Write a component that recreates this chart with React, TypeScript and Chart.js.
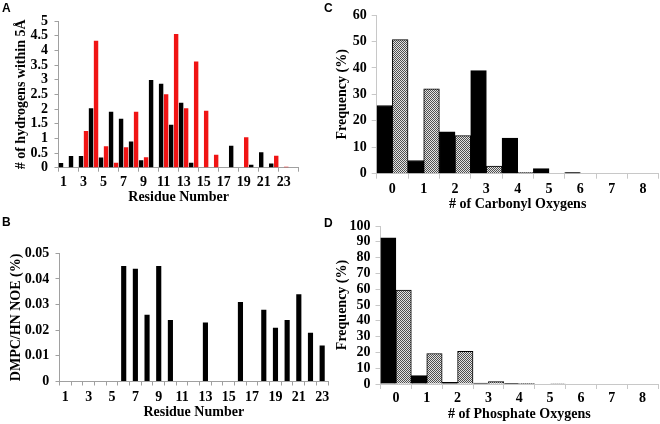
import React, { useEffect, useRef } from 'react';
import { Chart, registerables } from 'chart.js';

Chart.register(...registerables);

// ---------- Data ----------
// Panel A: number of hydrogens within 5 Å per residue
const residuesA = ['1', '2', '3', '4', '5', '6', '7', '8', '9', '10', '11', '12', '13', '14', '15', '16', '17', '18', '19', '20', '21', '22', '23', '24'];
const hydrogensBlack = [0.16, 0.4, 0.4, 2.03, 0.35, 1.91, 1.67, 0.89, 0.25, 2.99, 2.86, 1.46, 2.21, 0.17, 0, 0, 0, 0.75, 0, 0.1, 0.53, 0.14, 0, 0];
const hydrogensRed = [0, 0, 1.25, 4.33, 0.73, 0.17, 0.7, 1.91, 0.36, 0, 2.5, 4.56, 2.03, 3.62, 1.94, 0.44, 0, 0, 1.04, 0, 0, 0.41, 0.03, 0];

// Panel B: DMPC/HN NOE
const residuesB = ['1', '2', '3', '4', '5', '6', '7', '8', '9', '10', '11', '12', '13', '14', '15', '16', '17', '18', '19', '20', '21', '22', '23'];
const noeValues = [0, 0, 0, 0, 0, 0.045, 0.044, 0.026, 0.045, 0.024, 0, 0, 0.023, 0, 0, 0.031, 0, 0.028, 0.021, 0.024, 0.034, 0.019, 0.014];

// Panel C: carbonyl oxygens
const oxygenCounts = ['0', '1', '2', '3', '4', '5', '6', '7', '8'];
const carbonylBlack = [25.8, 5.0, 15.8, 39.0, 13.5, 1.9, 0.4, 0, 0];
const carbonylGray = [50.7, 32.1, 14.4, 2.9, 0.4, 0, 0, 0, 0];

// Panel D: phosphate oxygens
const phosphateBlack = [92.5, 5.3, 1.1, 0.6, 0.2, 0, 0, 0, 0];
const phosphateGray = [59.5, 19.3, 20.6, 1.5, 0.4, 0.3, 0, 0, 0];

// ---------- Styles ----------
const SERIF = "'Liberation Serif', 'Times New Roman', serif";
const tickFont = { family: SERIF, size: 14, weight: 'bold' as const };
const titleFont = { family: SERIF, size: 14, weight: 'bold' as const };
const AXIS_AB = '#a0a0a0';
const AXIS_CD = '#c8c8c8';
const RED = '#f01414';

function makePattern(ctx: CanvasRenderingContext2D) {
  const c = document.createElement('canvas');
  c.width = 2;
  c.height = 2;
  const p = c.getContext('2d')!;
  p.fillStyle = '#e4e4e4';
  p.fillRect(0, 0, 2, 2);
  p.fillStyle = '#505050';
  p.fillRect(0, 0, 1, 1);
  p.fillRect(1, 1, 1, 1);
  return ctx.createPattern(c, 'repeat');
}

type Spec = {
  yWidth: number;
  xHeight: number;
  padTop: number;
  padRight: number;
  yMax: number;
  yStep: number;
  yTitle: string;
  yTitlePad: number;
  yTickPad: number;
  tickLen: number;
  xTitle: string;
  xTitlePad: number;
  xTickPad: number;
  axisColor: string;
  xGridColor: any;
  xLabel: (v: any, i: number) => string;
};

function buildOptions(s: Spec): any {
  return {
    responsive: false,
    animation: false,
    events: [],
    layout: { padding: { top: s.padTop, right: s.padRight, left: 0, bottom: 0 } },
    plugins: { legend: { display: false }, tooltip: { enabled: false } },
    scales: {
      x: {
        type: 'category',
        offset: true,
        afterFit: (scale: any) => {
          scale.height = s.xHeight;
        },
        grid: {
          offset: true,
          drawOnChartArea: false,
          drawTicks: true,
          tickLength: s.tickLen,
          color: s.xGridColor,
        },
        border: { display: true, color: s.axisColor },
        ticks: {
          autoSkip: false,
          maxRotation: 0,
          minRotation: 0,
          padding: s.xTickPad,
          color: '#000',
          font: tickFont,
          callback: s.xLabel,
        },
        title: {
          display: true,
          text: s.xTitle,
          color: '#000',
          font: titleFont,
          padding: { top: 0, bottom: s.xTitlePad },
        },
      },
      y: {
        min: 0,
        max: s.yMax,
        afterFit: (scale: any) => {
          scale.width = s.yWidth;
        },
        grid: {
          drawOnChartArea: false,
          drawTicks: true,
          tickLength: s.tickLen,
          color: s.axisColor,
        },
        border: { display: true, color: s.axisColor },
        ticks: {
          stepSize: s.yStep,
          autoSkip: false,
          padding: s.yTickPad,
          color: '#000',
          font: tickFont,
          callback: (v: any) => String(Math.round(Number(v) * 10000) / 10000),
        },
        title: {
          display: true,
          text: s.yTitle,
          color: '#000',
          font: titleFont,
          padding: { top: s.yTitlePad, bottom: 0 },
        },
      },
    },
  };
}

export default function App() {
  const refA = useRef<HTMLCanvasElement>(null);
  const refB = useRef<HTMLCanvasElement>(null);
  const refC = useRef<HTMLCanvasElement>(null);
  const refD = useRef<HTMLCanvasElement>(null);

  useEffect(() => {
    const charts: Chart[] = [];

    // Panel A
    charts.push(
      new Chart(refA.current!, {
        type: 'bar',
        data: {
          labels: residuesA,
          datasets: [
            { data: hydrogensBlack, backgroundColor: '#000', categoryPercentage: 1, barPercentage: 0.88 },
            { data: hydrogensRed, backgroundColor: RED, categoryPercentage: 1, barPercentage: 0.88 },
          ],
        },
        options: buildOptions({
          yWidth: 58.5,
          xHeight: 42.3,
          padTop: 21,
          padRight: 11.25,
          yMax: 5,
          yStep: 0.5,
          yTitle: '# of hydrogens within 5Å',
          yTitlePad: 12.6,
          yTickPad: 6.5,
          tickLen: 4,
          xTitle: 'Residue Number',
          xTitlePad: 4,
          xTickPad: 2.4,
          axisColor: AXIS_AB,
          xGridColor: (ctx: any) =>
            ctx.index === undefined || ctx.index % 2 === 0 ? AXIS_AB : 'rgba(0,0,0,0)',
          xLabel: (_v: any, i: number) => (i % 2 === 0 ? residuesA[i] : ''),
        }),
      })
    );

    // Panel B
    charts.push(
      new Chart(refB.current!, {
        type: 'bar',
        data: {
          labels: residuesB,
          datasets: [{ data: noeValues, backgroundColor: '#000', categoryPercentage: 1, barPercentage: 0.44 }],
        },
        options: buildOptions({
          yWidth: 59.5,
          xHeight: 42.5,
          padTop: 41.3,
          padRight: 12,
          yMax: 0.05,
          yStep: 0.01,
          yTitle: 'DMPC/HN NOE (%)',
          yTitlePad: 7.6,
          yTickPad: 6.2,
          tickLen: 4,
          xTitle: 'Residue Number',
          xTitlePad: 3.6,
          xTickPad: 3.1,
          axisColor: AXIS_AB,
          xGridColor: AXIS_AB,
          xLabel: (_v: any, i: number) => (i % 2 === 0 ? residuesB[i] : ''),
        }),
      })
    );

    // Panel C
    const ctxC = refC.current!.getContext('2d')!;
    charts.push(
      new Chart(refC.current!, {
        type: 'bar',
        data: {
          labels: oxygenCounts,
          datasets: [
            { data: carbonylBlack, backgroundColor: '#000', borderColor: '#000', borderWidth: 1, categoryPercentage: 1, barPercentage: 1 },
            { data: carbonylGray, backgroundColor: makePattern(ctxC) as any, borderColor: '#000', borderWidth: 1, categoryPercentage: 1, barPercentage: 1 },
          ],
        },
        options: buildOptions({
          yWidth: 46.7,
          xHeight: 44.3,
          padTop: 15,
          padRight: 1.3,
          yMax: 60,
          yStep: 10,
          yTitle: 'Frequency (%)',
          yTitlePad: 4.1,
          yTickPad: 5,
          tickLen: 5,
          xTitle: '# of Carbonyl Oxygens',
          xTitlePad: 5,
          xTickPad: 1.9,
          axisColor: AXIS_CD,
          xGridColor: AXIS_CD,
          xLabel: (_v: any, i: number) => oxygenCounts[i],
        }),
      })
    );

    // Panel D
    const ctxD = refD.current!.getContext('2d')!;
    charts.push(
      new Chart(refD.current!, {
        type: 'bar',
        data: {
          labels: oxygenCounts,
          datasets: [
            { data: phosphateBlack, backgroundColor: '#000', borderColor: '#000', borderWidth: 1, categoryPercentage: 1, barPercentage: 1 },
            { data: phosphateGray, backgroundColor: makePattern(ctxD) as any, borderColor: '#000', borderWidth: 1, categoryPercentage: 1, barPercentage: 1 },
          ],
        },
        options: buildOptions({
          yWidth: 50.5,
          xHeight: 40,
          padTop: 14,
          padRight: 2,
          yMax: 100,
          yStep: 10,
          yTitle: 'Frequency (%)',
          yTitlePad: 4.1,
          yTickPad: 5,
          tickLen: 5,
          xTitle: '# of Phosphate Oxygens',
          xTitlePad: 1.6,
          xTickPad: 0.6,
          axisColor: AXIS_CD,
          xGridColor: AXIS_CD,
          xLabel: (_v: any, i: number) => oxygenCounts[i],
        }),
      })
    );

    return () => {
      charts.forEach((c) => c.destroy());
    };
  }, []);

  const letter: React.CSSProperties = {
    position: 'absolute',
    fontFamily: "'Liberation Sans', Arial, sans-serif",
    fontWeight: 'bold',
    fontSize: 12,
    lineHeight: '12px',
    color: '#000',
  };

  return (
    <div style={{ position: 'fixed', left: 0, top: 0, width: 660, height: 424, background: '#fff', overflow: 'hidden' }}>
      <canvas ref={refA} width={310} height={210} style={{ position: 'absolute', left: 0, top: 0 }} />
      <canvas ref={refB} width={340} height={212} style={{ position: 'absolute', left: 0, top: 212 }} />
      <canvas ref={refC} width={330} height={218} style={{ position: 'absolute', left: 330, top: 0 }} />
      <canvas ref={refD} width={330} height={212} style={{ position: 'absolute', left: 330, top: 212 }} />
      <div style={{ ...letter, left: 2, top: 1.7 }}>A</div>
      <div style={{ ...letter, left: 2, top: 216.4 }}>B</div>
      <div style={{ ...letter, left: 324, top: 1.7 }}>C</div>
      <div style={{ ...letter, left: 324, top: 217.4 }}>D</div>
    </div>
  );
}
